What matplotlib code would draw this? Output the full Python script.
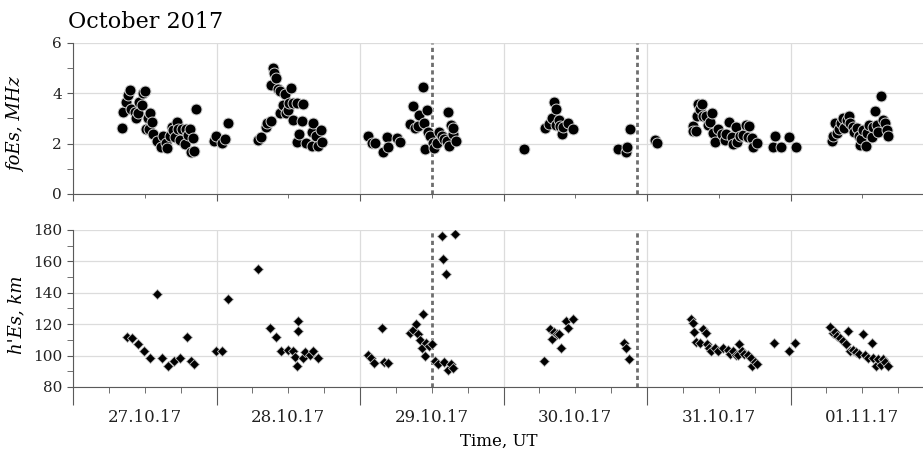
import numpy as np
import matplotlib
matplotlib.use("Agg")
import matplotlib.pyplot as plt

# time in days from 27.10.2017 00:00 UT
fo_t = [0.344, 0.351, 0.367, 0.381, 0.395, 0.404, 0.432, 0.439, 0.451, 0.460, 0.479, 0.490,
        0.502, 0.509, 0.525, 0.530, 0.539, 0.553, 0.560, 0.583, 0.611, 0.629, 0.648, 0.657,
        0.676, 0.688, 0.699, 0.711, 0.727, 0.734, 0.746, 0.762, 0.780, 0.787, 0.803, 0.815,
        0.820, 0.834, 0.845, 0.855, 0.985, 0.997, 1.041, 1.059, 1.083,
        1.287, 1.310, 1.343, 1.354, 1.377, 1.380, 1.392, 1.403, 1.415, 1.427, 1.443, 1.443,
        1.462, 1.477, 1.484, 1.500, 1.507, 1.519, 1.530, 1.535, 1.559, 1.563, 1.577, 1.593,
        1.605, 1.621, 1.663, 1.668, 1.675, 1.693, 1.710, 1.728, 1.737,
        2.058, 2.081, 2.105, 2.158, 2.186, 2.197, 2.255, 2.279, 2.348, 2.371, 2.383, 2.406,
        2.413, 2.437, 2.446, 2.453, 2.465, 2.476, 2.488, 2.507, 2.518, 2.534, 2.553, 2.569,
        2.585, 2.604, 2.615, 2.622, 2.634, 2.646, 2.650, 2.667,
        3.145, 3.289, 3.319, 3.335, 3.351, 3.363, 3.366, 3.387, 3.394, 3.406, 3.417, 3.452,
        3.487, 3.796, 3.854, 3.863, 3.882,
        4.056, 4.072, 4.318, 4.322, 4.341, 4.346, 4.357, 4.369, 4.380, 4.388, 4.411, 4.427,
        4.439, 4.451, 4.457, 4.474, 4.497, 4.520, 4.544, 4.551, 4.574, 4.590, 4.602, 4.620,
        4.630, 4.648, 4.667, 4.690, 4.701, 4.713, 4.729, 4.740, 4.764, 4.880, 4.892, 4.934,
        4.992, 5.038,
        5.287, 5.298, 5.310, 5.322, 5.340, 5.350, 5.364, 5.373, 5.392, 5.408, 5.415, 5.433,
        5.445, 5.461, 5.479, 5.484, 5.491, 5.507, 5.524, 5.531, 5.547, 5.566, 5.573, 5.589,
        5.601, 5.612, 5.631, 5.643, 5.659, 5.671, 5.682]
foEs = [2.63, 3.27, 3.66, 3.93, 4.15, 3.37, 3.27, 3.00, 3.23, 3.66, 3.53, 4.02,
        4.09, 2.58, 3.00, 2.58, 3.23, 2.87, 2.37, 2.10, 1.85, 2.30, 2.04, 1.81,
        2.30, 2.67, 2.54, 2.27, 2.87, 2.57, 2.14, 2.58, 1.97, 2.58, 2.34, 2.57,
        1.68, 2.21, 1.71, 3.36, 2.10, 2.30, 2.01, 2.17, 2.81,
        2.14, 2.27, 2.65, 2.83, 2.91, 4.33, 4.99, 4.81, 4.62, 4.19, 4.09, 3.20,
        3.53, 3.96, 3.20, 3.33, 3.62, 4.22, 3.60, 2.96, 3.62, 2.08, 2.38, 2.91,
        3.57, 2.01, 2.47, 1.90, 2.83, 2.30, 1.90, 2.54, 2.08,
        2.30, 2.01, 2.04, 1.68, 2.27, 1.85, 2.21, 2.08, 2.77, 3.49, 2.61, 2.70,
        3.13, 4.26, 2.83, 1.77, 3.33, 2.47, 2.30, 2.01, 1.81, 2.01, 2.47, 2.30,
        2.17, 2.10, 3.24, 1.90, 2.74, 2.37, 2.61, 2.10,
        1.79, 2.63, 2.77, 3.00, 3.64, 3.36, 2.74, 2.96, 2.70, 2.37, 2.67, 2.83,
        2.57, 1.79, 1.65, 1.85, 2.57,
        2.14, 2.04, 2.70, 2.51, 2.50, 3.10, 3.57, 3.36, 3.57, 3.10, 3.10, 2.74,
        2.87, 3.20, 2.41, 2.08, 2.57, 2.38, 2.14, 2.38, 2.87, 2.27, 1.97, 2.67,
        2.08, 2.30, 2.34, 2.74, 2.27, 2.71, 2.23, 1.88, 2.01, 1.85, 2.30, 1.85,
        2.25, 1.85,
        2.10, 2.30, 2.81, 2.41, 2.57, 2.83, 3.00, 2.63, 2.96, 3.11, 2.83, 2.67,
        2.47, 2.61, 2.30, 1.94, 2.17, 2.54, 1.90, 2.43, 2.74, 2.25, 2.67, 3.29,
        2.74, 2.47, 3.90, 2.96, 2.81, 2.54, 2.30]

h_t = [0.376, 0.413, 0.455, 0.497, 0.537, 0.583, 0.622, 0.664, 0.706, 0.746, 0.797, 0.822,
       0.843, 0.994, 1.041, 1.083,
       1.287, 1.373, 1.412, 1.449, 1.500, 1.530, 1.547, 1.559, 1.566, 1.570, 1.600, 1.617,
       1.652, 1.675, 1.710,
       2.058, 2.077, 2.100, 2.151, 2.170, 2.193, 2.348, 2.371, 2.390, 2.406, 2.418, 2.430,
       2.441, 2.453, 2.460, 2.483, 2.500, 2.523, 2.546, 2.569, 2.580, 2.587, 2.599, 2.615,
       2.634, 2.650, 2.662,
       3.282, 3.324, 3.336, 3.354, 3.371, 3.389, 3.398, 3.436, 3.452, 3.482, 3.842, 3.854,
       3.877,
       4.307, 4.323, 4.330, 4.341, 4.369, 4.388, 4.409, 4.416, 4.434, 4.444, 4.474, 4.497,
       4.532, 4.566, 4.578, 4.601, 4.620, 4.636, 4.643, 4.659, 4.676, 4.706, 4.722, 4.734,
       4.753, 4.765, 4.885, 4.992, 5.031,
       5.275, 5.294, 5.310, 5.326, 5.345, 5.368, 5.387, 5.403, 5.415, 5.433, 5.456, 5.479,
       5.507, 5.519, 5.542, 5.566, 5.573, 5.596, 5.612, 5.628, 5.646, 5.659, 5.682]
hEs = [112.0, 111.0, 107.2, 102.9, 98.7, 139.2, 98.7, 93.6, 96.8, 98.7, 112.0, 96.8,
       94.6, 102.9, 102.9, 136.1,
       155.2, 117.8, 111.7, 102.9, 103.6, 102.9, 99.3, 93.6, 122.0, 115.7, 98.7, 102.1,
       100.4, 102.9, 98.7,
       100.4, 98.7, 95.1, 117.8, 96.1, 95.1, 114.2, 116.3, 119.9, 113.6, 109.9, 104.6,
       126.3, 99.9, 107.8, 106.1, 107.2, 96.8, 94.5, 176.2, 161.3, 95.7, 152.0, 90.8,
       94.5, 91.9, 177.3,
       96.8, 116.9, 110.6, 115.2, 113.6, 113.8, 105.0, 122.0, 117.8, 123.1, 108.2, 105.0,
       97.8,
       123.1, 121.0, 114.8, 108.9, 108.2, 116.9, 114.2, 107.2, 105.0, 102.9, 104.6, 102.9,
       105.0, 103.6, 100.8, 102.9, 100.4, 100.4, 107.2, 102.9, 100.8, 100.4, 98.7, 93.6,
       95.7, 94.5, 107.8, 102.9, 107.8,
       118.0, 114.2, 115.2, 112.7, 111.4, 109.3, 107.2, 115.9, 102.9, 103.6, 102.5, 100.8,
       113.8, 100.4, 98.7, 107.8, 98.7, 93.6, 97.8, 94.0, 97.8, 96.1, 93.6]

day_labels = ["27.10.17", "28.10.17", "29.10.17", "30.10.17", "31.10.17", "01.11.17"]
event_t = [2.50, 3.93]

plt.rcParams["font.family"] = "DejaVu Serif"

fig = plt.figure(figsize=(9.23, 4.54), dpi=100)
ax1 = fig.add_axes([0.0791, 0.5727, 0.9209, 0.3326])
ax2 = fig.add_axes([0.0791, 0.1476, 0.9209, 0.3458])

spine_c = "#5a5a5a"
grid_c = "#dcdcdc"
xmax = 5.923

for ax in (ax1, ax2):
    ax.set_xlim(0, xmax)
    ax.spines["top"].set_visible(False)
    ax.spines["right"].set_visible(False)
    ax.spines["left"].set_color(spine_c)
    ax.spines["bottom"].set_color(spine_c)
    ax.set_xticks(np.arange(0, 6))
    ax.grid(True, which="major", color=grid_c, lw=0.9)
    ax.set_axisbelow(True)
    ax.tick_params(which="both", colors=spine_c, labelcolor="#222222")
    for t in event_t:
        ax.axvline(t, color="#6e6e6e", lw=2, ls=(0, (1.5, 1.2)), zorder=1)

# foEs panel
ax1.scatter(fo_t, foEs, s=62, marker="o", c="black", edgecolors="#cfcfcf", linewidths=0.7, zorder=3)
ax1.set_ylim(0, 6)
ax1.set_yticks([0, 2, 4, 6])
ax1.set_yticks([1, 3, 5], minor=True)
ax1.set_xticks(np.arange(0.5, 6, 1), minor=True)
ax1.tick_params(axis="x", which="major", length=5, labelbottom=False)
ax1.tick_params(axis="x", which="minor", length=3, labelbottom=False)
ax1.tick_params(axis="y", which="both", length=4, labelsize=11, pad=4)
ax1.set_ylabel("foEs, MHz", style="italic", fontsize=13)
ax1.yaxis.set_label_coords(-0.056, 0.46)

# h'Es panel
ax2.scatter(h_t, hEs, s=26, marker="D", c="black", edgecolors="#bdbdbd", linewidths=0.6, zorder=3)
ax2.set_ylim(80, 180)
ax2.set_yticks(np.arange(80, 181, 20))
ax2.set_yticks(np.arange(90, 180, 20), minor=True)
minor_x = [d + q for d in range(6) for q in (0.25, 0.5, 0.75)]
minor_lab = []
for d in range(6):
    minor_lab += ["", day_labels[d], ""]
ax2.set_xticks(minor_x, minor=True)
ax2.set_xticklabels(minor_lab, minor=True, fontsize=12)
ax2.tick_params(axis="x", which="major", length=13, labelbottom=False)
ax2.tick_params(axis="x", which="minor", length=4, pad=12)
ax2.tick_params(axis="y", which="both", length=4, labelsize=11, pad=4)
ax2.set_ylabel("h'Es, km", style="italic", fontsize=13)
ax2.yaxis.set_label_coords(-0.056, 0.46)

fig.text(68 / 923, 1 - 28 / 454, "October 2017", fontsize=16, va="baseline", ha="left")
fig.text(0.54, 1 - 446 / 454, "Time, UT", fontsize=12, ha="center", va="baseline")

fig.savefig("out.png", dpi=100)
